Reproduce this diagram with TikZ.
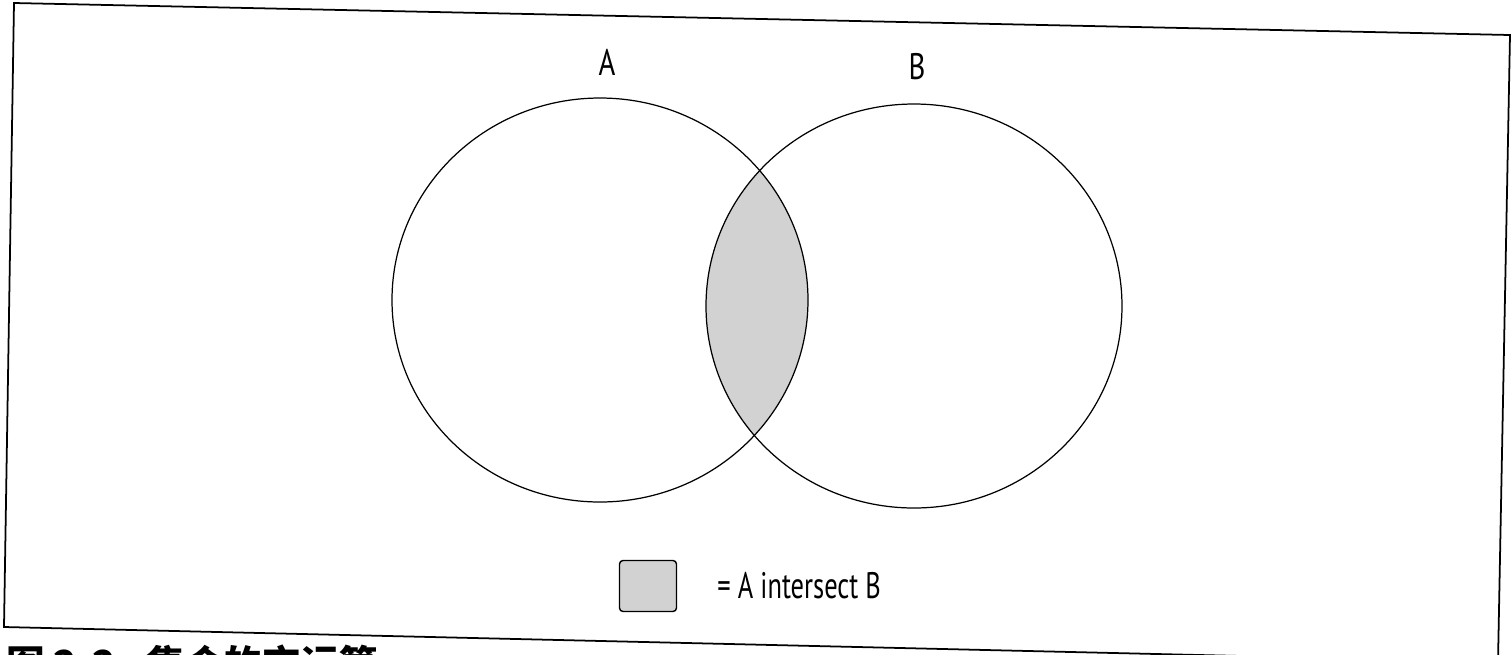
\documentclass[tikz,border=0pt]{standalone}
\usepackage{fontspec}
\setmainfont{PT Sans}
\newfontfamily\cjk{Noto Sans CJK SC}
\usetikzlibrary{positioning}

\begin{document}
\begin{tikzpicture}[x=0.02cm,y=-0.02cm,
    setline/.style={line width=0.7pt},
    overlap/.style={fill=gray!35},
    setlabel/.style={font=\fontsize{21}{24}\selectfont,xscale=0.78,inner sep=0pt}]
  \useasboundingbox (0,0) rectangle (1512,654);
  % frame (slightly tilted scan)
  \draw[line width=1pt] (14,3) -- (1510,35) -- (1498,662) -- (4,627) -- cycle;
  % sets
  \coordinate (ca) at (600,300);
  \coordinate (cb) at (914,306);
  \begin{scope}
    \clip (ca) ellipse (208 and 202);
    \fill[overlap] (cb) ellipse (208 and 202);
  \end{scope}
  \draw[setline] (ca) ellipse (208 and 202);
  \draw[setline] (cb) ellipse (208 and 202);
  \node[setlabel] (la) at (607,62) {A};
  \node[setlabel] (lb) at (917,67) {B};
  % legend
  \node[draw,overlap,line width=0.8pt,rounded corners=2pt,
        minimum width=1.14cm,minimum height=1.02cm] (key) at (648,586) {};
  \node[setlabel,xscale=0.92,anchor=west] (keytext) at ([xshift=0.8cm]key.east) {= A intersect B};
  % caption, cut off at the lower edge
  \begin{scope}
    \clip (0,0) rectangle (1512,654);
    \node[anchor=north west,inner sep=0pt,font=\cjk\bfseries\fontsize{22}{24}\selectfont]
      (caption) at (6,645) {图 2-2\hspace{0.8em}集合的交运算};
  \end{scope}
\end{tikzpicture}
\end{document}
